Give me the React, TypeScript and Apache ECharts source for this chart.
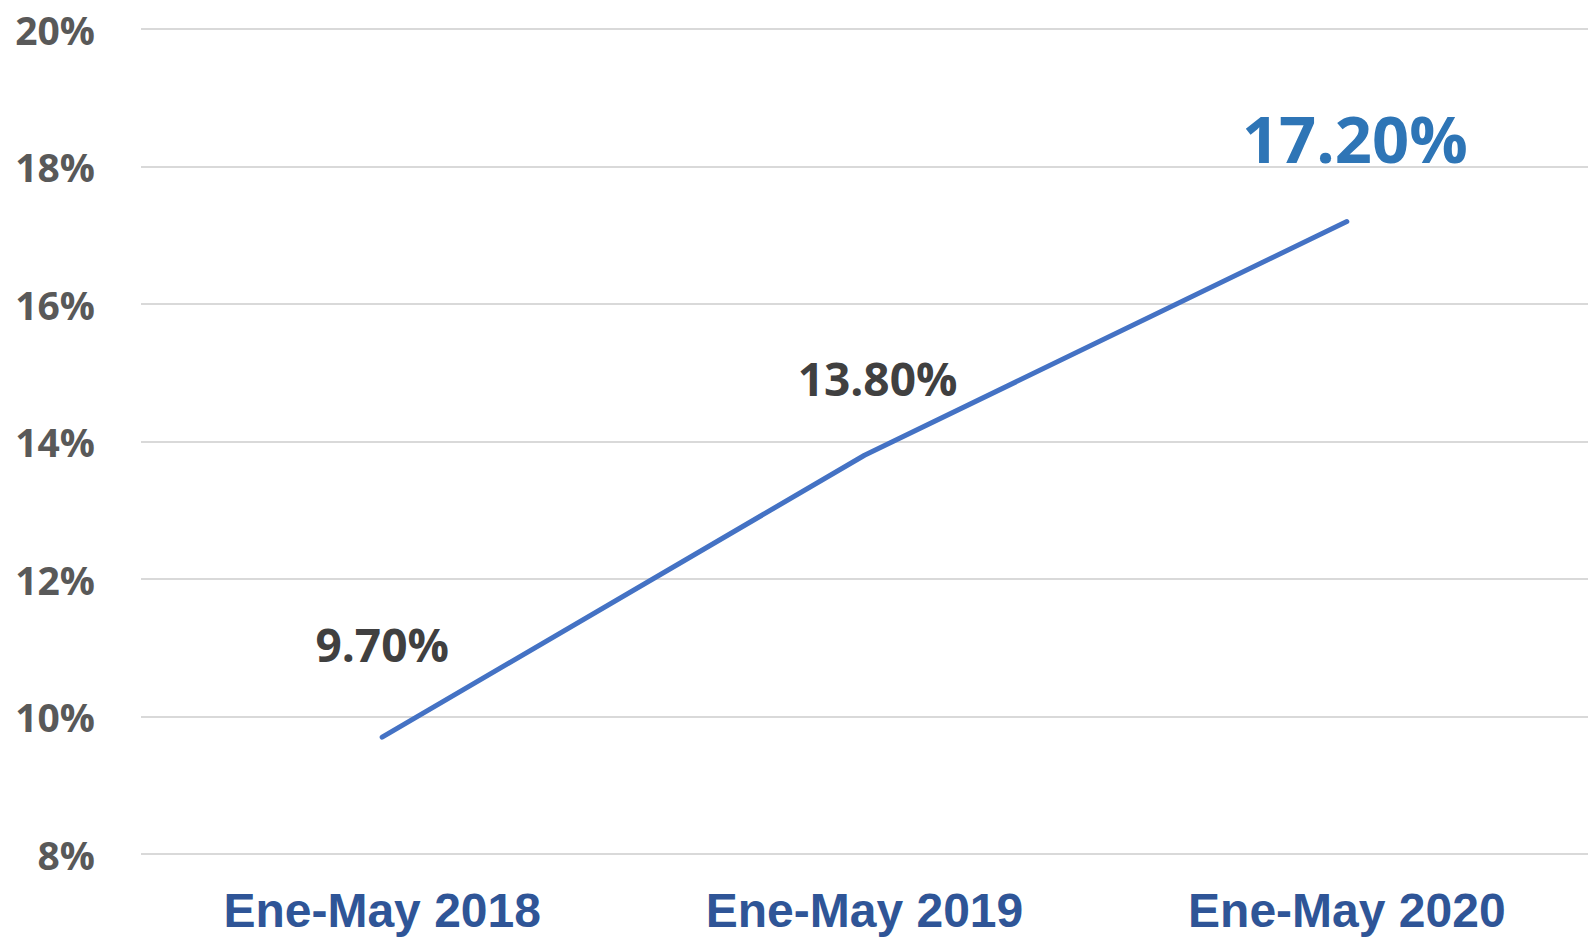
import React, { useEffect, useRef } from "react";
import * as echarts from "echarts";

const categories = ["Ene-May 2018", "Ene-May 2019", "Ene-May 2020"];
const values = [9.7, 13.8, 17.2];
const valueLabels = ["9.70%", "13.80%", "17.20%"];
const yMin = 8;
const yMax = 20;
const yInterval = 2;

export default function App() {
  const ref = useRef<HTMLDivElement>(null);
  useEffect(() => {
    document.body.style.margin = "0";
    const chart = echarts.init(ref.current!, null, { renderer: "svg" });
    const labelStyles = [
      { fontSize: 46, color: "#404040", distance: 70, offset: [0, 0] },
      { fontSize: 46, color: "#404040", distance: 54, offset: [13, 0] },
      { fontSize: 65, color: "#2E75B6", distance: 51, offset: [8, 0] },
    ];
    chart.setOption({
      animation: false,
      backgroundColor: "#ffffff",
      grid: { left: 141, right: 0, top: 29, bottom: 83, containLabel: false },
      xAxis: {
        type: "category",
        data: categories,
        boundaryGap: true,
        axisLine: { show: false },
        axisTick: { show: false },
        axisLabel: {
          margin: 32,
          fontFamily: "Liberation Sans, Arial, sans-serif",
          fontWeight: "bold",
          fontSize: 48,
          color: "#2F5597",
        },
      },
      yAxis: {
        type: "value",
        min: yMin,
        max: yMax,
        interval: yInterval,
        axisLine: { show: false },
        axisTick: { show: false },
        splitLine: { lineStyle: { color: "#D9D9D9", width: 2 } },
        axisLabel: {
          margin: 46,
          formatter: "{value}%",
          fontFamily: "Open Sans, sans-serif",
          fontWeight: "bold",
          fontSize: 39,
          color: "#595959",
        },
      },
      series: [
        {
          type: "line",
          data: values.map((v, i) => ({
            value: v,
            label: {
              show: true,
              position: "top",
              formatter: valueLabels[i],
              fontFamily: "Open Sans, sans-serif",
              fontWeight: "bold",
              fontSize: labelStyles[i].fontSize,
              color: labelStyles[i].color,
              distance: labelStyles[i].distance,
              offset: labelStyles[i].offset,
            },
          })),
          symbol: "circle",
          symbolSize: 1,
          showSymbol: true,
          itemStyle: { color: "#4472C4" },
          lineStyle: { color: "#4472C4", width: 5, cap: "round", join: "round" },
        },
      ],
    });
    return () => chart.dispose();
  }, []);
  return (
    <div
      ref={ref}
      style={{ position: "absolute", left: 0, top: 0, width: 1588, height: 937 }}
    />
  );
}
